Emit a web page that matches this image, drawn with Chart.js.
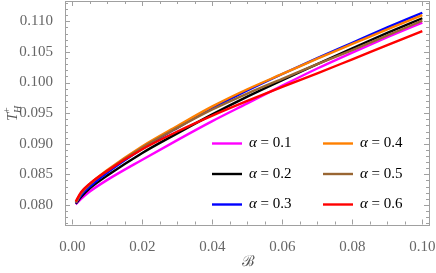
<!DOCTYPE html>
<html>
<head>
<meta charset="utf-8">
<script src="https://cdn.jsdelivr.net/npm/chart.js@4/dist/chart.umd.min.js"></script>
<style>
  html, body { margin: 0; padding: 0; background: #fff; }
  #wrap { width: 436px; height: 273px; }
</style>
</head>
<body>
<div id="wrap"><canvas id="tempChart" width="436" height="273"></canvas></div>
<script>
// B values along the horizontal axis
const bValues = [0.001, 0.0025, 0.005, 0.01, 0.02, 0.03, 0.04, 0.05, 0.06, 0.07, 0.08, 0.09, 0.10];

// T_H^+ for each alpha
const tAlpha01 = [0.0801, 0.0810, 0.0822, 0.0841, 0.0874, 0.0906, 0.0937, 0.0966, 0.0995, 0.1023, 0.1049, 0.1074, 0.1098];
const tAlpha02 = [0.0802, 0.0813, 0.0827, 0.0848, 0.0885, 0.0917, 0.0948, 0.0977, 0.1004, 0.1030, 0.1056, 0.1081, 0.1105];
const tAlpha03 = [0.0803, 0.0816, 0.0830, 0.0853, 0.0892, 0.0926, 0.0958, 0.0987, 0.1014, 0.1040, 0.1065, 0.1090, 0.1114];
const tAlpha04 = [0.0804, 0.0819, 0.0834, 0.0857, 0.0896, 0.0929, 0.0961, 0.0989, 0.1014, 0.1039, 0.1063, 0.1087, 0.1110];
const tAlpha05 = [0.0804, 0.0819, 0.0834, 0.0856, 0.0894, 0.0926, 0.0956, 0.0982, 0.1006, 0.1030, 0.1053, 0.1077, 0.1101];
const tAlpha06 = [0.0806, 0.0821, 0.0835, 0.0856, 0.0891, 0.0920, 0.0946, 0.0970, 0.0993, 0.1015, 0.1038, 0.1061, 0.1084];

const alphaLabels = ['0.1', '0.2', '0.3', '0.4', '0.5', '0.6'];
const seriesColors = ['#ff00ff', '#000000', '#0000ff', '#ff8000', '#996633', '#ff0000'];

// tick labels
const xTicks = [0, 0.02, 0.04, 0.06, 0.08, 0.10];
const yTicks = [0.080, 0.085, 0.090, 0.095, 0.100, 0.105, 0.110];

const allSeries = [tAlpha01, tAlpha02, tAlpha03, tAlpha04, tAlpha05, tAlpha06];
const serif = "'Liberation Serif', 'DejaVu Serif', serif";

const datasets = allSeries.map((vals, i) => ({
    label: 'α = ' + alphaLabels[i],
    data: vals.map((v, k) => ({ x: bValues[k], y: v })),
    borderColor: seriesColors[i],
    borderWidth: 2.4,
    pointRadius: 0,
    fill: false,
    cubicInterpolationMode: 'monotone',
    order: allSeries.length - i   // later curves on top
}));

function noPad(s) {
    s.paddingTop = 0; s.paddingBottom = 0;
    s.paddingLeft = 0; s.paddingRight = 0;
}

// frame with inside ticks, axis titles and the two-column legend
const framePlugin = {
    id: 'frame',
    afterDraw(chart) {
        const ctx = chart.ctx;
        const a = chart.chartArea;
        const xs = chart.scales.x, ys = chart.scales.y;
        ctx.save();
        ctx.strokeStyle = '#a0a0a0';
        ctx.lineWidth = 1;
        ctx.strokeRect(Math.round(a.left) + 0.5, Math.round(a.top) + 0.5,
            Math.round(a.right - a.left), Math.round(a.bottom - a.top));

        ctx.beginPath();
        // x ticks (bottom and top)
        for (let v = 0; v <= 0.1001; v += 0.005) {
            const px = Math.round(xs.getPixelForValue(v)) + 0.5;
            const major = Math.abs(v / 0.02 - Math.round(v / 0.02)) < 1e-6;
            const len = major ? 5 : 3;
            ctx.moveTo(px, a.bottom); ctx.lineTo(px, a.bottom - len);
            ctx.moveTo(px, a.top); ctx.lineTo(px, a.top + len);
        }
        // y ticks (left and right)
        for (let v = 0.077; v <= 0.1131; v += 0.001) {
            const py = Math.round(ys.getPixelForValue(v)) + 0.5;
            const major = Math.abs(v / 0.005 - Math.round(v / 0.005)) < 1e-6;
            const len = major ? 5 : 3;
            ctx.moveTo(a.left, py); ctx.lineTo(a.left + len, py);
            ctx.moveTo(a.right, py); ctx.lineTo(a.right - len, py);
        }
        ctx.stroke();

        // axis titles
        ctx.fillStyle = '#555';
        ctx.textBaseline = 'alphabetic';
        ctx.font = '15px ' + serif;
        ctx.textAlign = 'center';
        ctx.fillText('ℬ', 248, 266);

        ctx.save();
        ctx.translate(17, 112);
        ctx.rotate(-Math.PI / 2);
        ctx.font = 'italic 15px ' + serif;
        ctx.textAlign = 'left';
        ctx.fillText('T', -9, 0);
        ctx.font = 'italic 10px ' + serif;
        ctx.fillText('H', -1, 4);
        ctx.font = '10px ' + serif;
        ctx.fillText('+', -1, -7);
        ctx.restore();

        // legend
        const rows = [143.5, 174, 204.5];
        const cols = [212, 323];
        chart.data.datasets.forEach((ds, i) => {
            const cx = cols[Math.floor(i / 3)];
            const cy = rows[i % 3];
            ctx.strokeStyle = ds.borderColor;
            ctx.lineWidth = 2.4;
            ctx.beginPath();
            ctx.moveTo(cx, cy); ctx.lineTo(cx + 30, cy);
            ctx.stroke();
            ctx.fillStyle = '#000';
            ctx.textAlign = 'left';
            ctx.textBaseline = 'middle';
            ctx.font = 'italic 15px ' + serif;
            ctx.fillText('α', cx + 37, cy);
            const w = ctx.measureText('α').width;
            ctx.font = '15px ' + serif;
            ctx.fillText(' = ' + alphaLabels[i], cx + 37 + w, cy);
        });
        ctx.restore();
    }
};

const ctx = document.getElementById('tempChart').getContext('2d');
const tempChart = new Chart(ctx, {
    type: 'line',
    data: { datasets: datasets },
    options: {
        responsive: false,
        animation: false,
        layout: { padding: { top: 1, right: 7, left: 0, bottom: 0 } },
        plugins: { legend: { display: false }, tooltip: { enabled: false } },
        scales: {
            x: {
                type: 'linear',
                min: -0.00209,
                max: 0.10191,
                grid: { display: false },
                border: { display: false },
                afterBuildTicks: s => { s.ticks = xTicks.map(v => ({ value: v })); },
                afterFit: s => { s.height = 48.5; noPad(s); },
                ticks: {
                    padding: 6,
                    color: '#666',
                    font: { family: serif, size: 15 },
                    callback: v => v.toFixed(2)
                }
            },
            y: {
                min: 0.07681,
                max: 0.11332,
                grid: { display: false },
                border: { display: false },
                afterBuildTicks: s => { s.ticks = yTicks.map(v => ({ value: v })); },
                afterFit: s => { s.width = 65; noPad(s); },
                ticks: {
                    padding: 4,
                    color: '#666',
                    font: { family: serif, size: 15 },
                    callback: v => v.toFixed(3)
                }
            }
        }
    },
    plugins: [framePlugin]
});
</script>
</body>
</html>
